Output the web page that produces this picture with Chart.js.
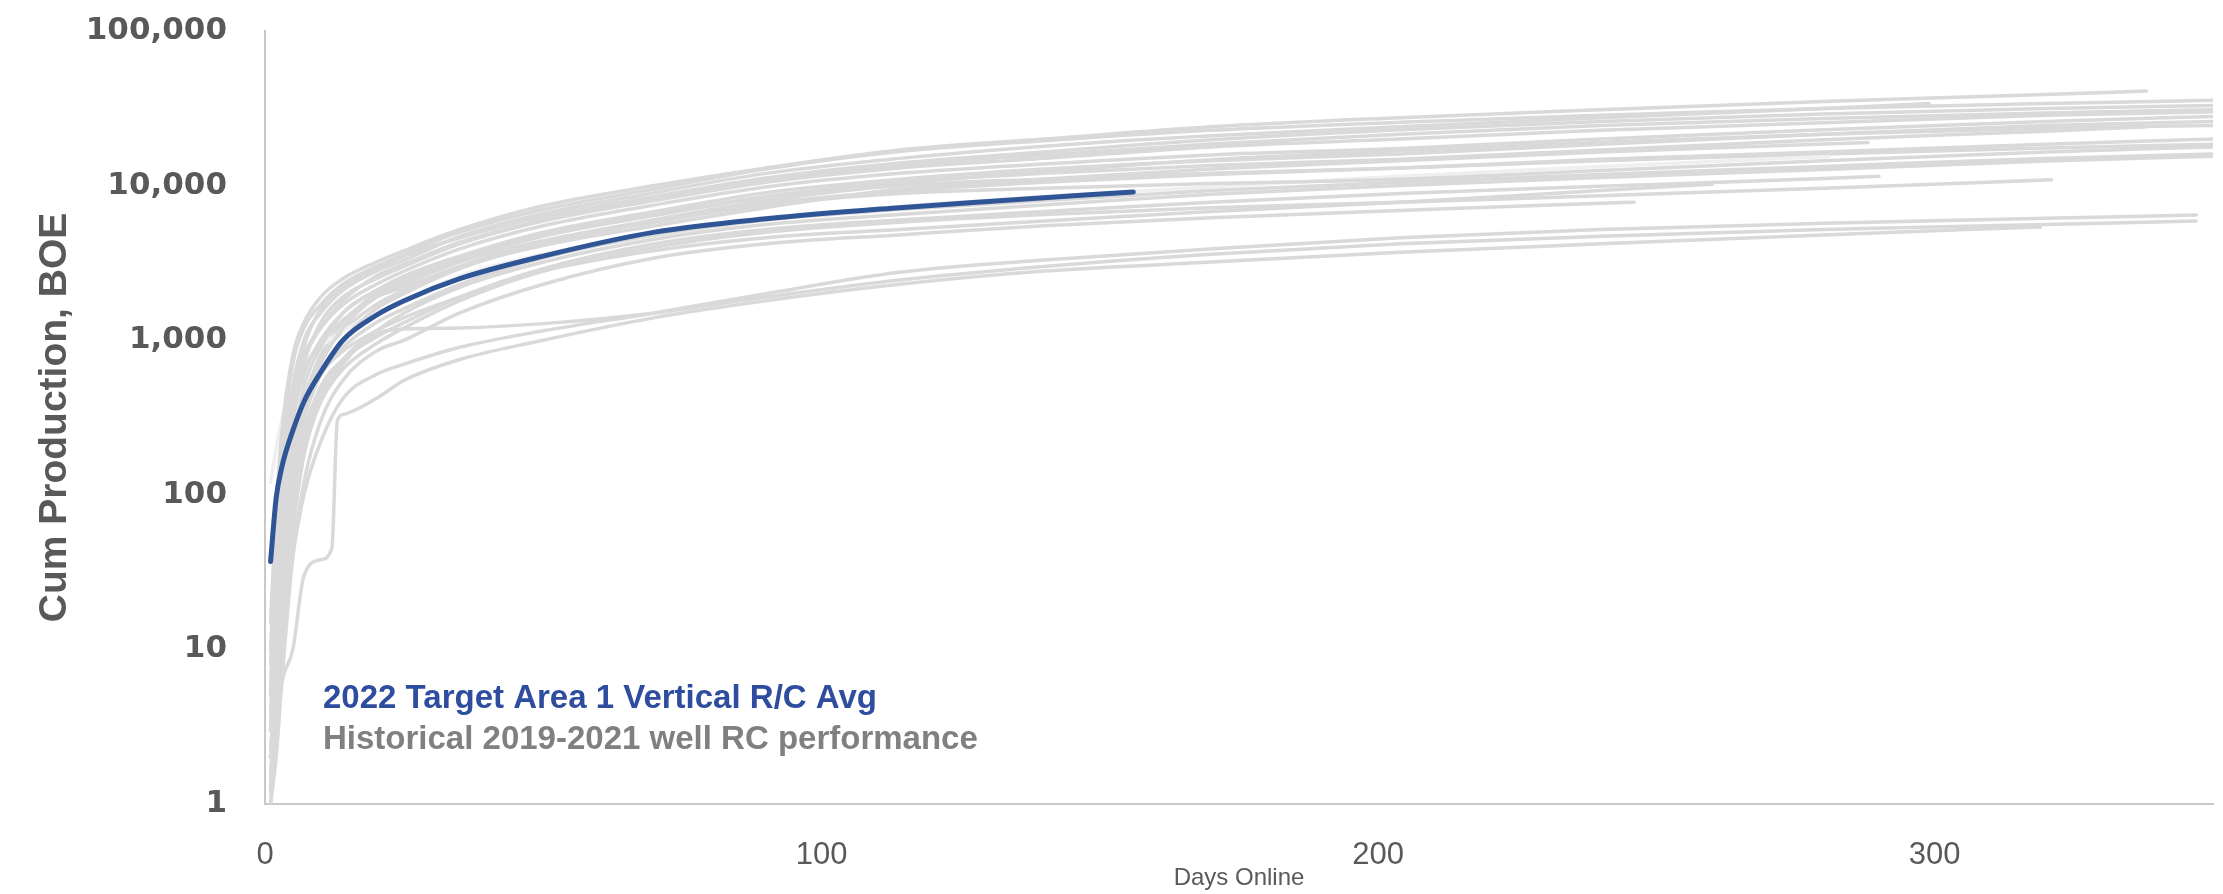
<!DOCTYPE html>
<html>
<head>
<meta charset="utf-8">
<script src="https://cdn.jsdelivr.net/npm/chart.js@4.4.1/dist/chart.umd.min.js"></script>
<style>
  html, body { margin: 0; padding: 0; background: #fff; }
  #wrap { width: 2223px; height: 894px; position: relative; }
</style>
</head>
<body>
<div id="wrap"><canvas id="myChart"></canvas></div>
<script>
// axis ticks
const xTicks = [0, 100, 200, 300];
const yTicks = [1, 10, 100, 1000, 10000, 100000];

// legend lines (text only, no markers)
const legendLabels = ['2022 Target Area 1 Vertical R/C Avg', 'Historical 2019-2021 well RC performance'];

// 2022 target area average curve
const avgDays = [1, 2, 3, 5, 7, 10, 14, 20, 25, 35, 50, 70, 90, 114, 130, 156];
const avgBoe = [37, 95, 150, 260, 400, 620, 1000, 1450, 1800, 2500, 3500, 5000, 6100, 7200, 7900, 9100];

// historical wells, read on a shared day grid (null = no reading there)
const wellDays = [1, 2, 3, 5, 7, 10, 12, 13, 14, 20, 25, 35, 50, 70, 90, 114, 140, 170, 204, 240, 280, 320];
const wellA = [15, 80, 250, 800, 1300, 1900, null, null, 2500, 3200, 3800, 5200, 7400, 10000, 13000, 17000, 20000, 24000, 27500, 31000, 35000, 38800];
const wellB = [8, 40, 180, 700, 1200, 1700, null, null, 2300, 3000, 3600, 5000, 7000, 9500, 12800, 16600, 19500, 22800, 25700, 28500, 31500, 34000];
const wellC = [3, 20, 100, 400, 900, 1600, null, null, 2200, 2900, 3500, 4600, 6300, 8500, 11200, 14000, 16500, 19800, 23000, 26000, 29000, 31500];
const wellD = [5, 25, 120, 500, 1000, 1500, null, null, 2100, 2800, 3300, 4700, 6600, 9000, 12000, 15000, 18000, 21000, 24000, 27500, 31500, null];
const wellE = [2, 10, 60, 300, 700, 1300, null, null, 1900, 2500, 3000, 4200, 5900, 8000, 10500, 13000, 15000, 17800, 20000, 22800, 25500, 28500];
const wellF = [6, 30, 150, 450, 800, 1200, null, null, 1700, 2300, 2800, 3900, 5500, 7500, 9800, 12000, 13800, 15800, 17400, 20000, 23000, 26000];
const wellG = [1.5, 6, 30, 200, 500, 900, null, null, 1500, 2100, 2600, 3500, 5000, 6800, 9000, 11000, 12800, 14500, 16000, 18500, 21500, 24500];
const wellH = [4, 15, 70, 300, 600, 1000, null, null, 1500, 2100, 2500, 3400, 4800, 6500, 8500, 10500, 12000, 13500, 14800, 17000, 19800, 22500];
const wellI = [10, 50, 150, 400, 650, 950, null, null, 1350, 1900, 2200, 3000, 4100, 5500, 7200, 9500, 11000, 12800, 14500, 16500, 18600, null];
const wellJ = [2, 8, 40, 150, 350, 700, null, null, 1200, 1900, 2300, 3200, 4400, 6000, 8000, 10000, 11000, 12000, 13000, 14800, 16500, 18500];
const wellK = [1.2, 4, 20, 120, 300, 600, null, null, 1000, 1600, 2000, 2900, 4200, 5800, 7500, 8900, 9600, 10300, 11000, 12500, 14500, 16500];
const wellL = [3, 12, 50, 180, 350, 600, null, null, 900, 1300, 1600, 2300, 3400, 4800, 6000, 7000, 8000, 9300, 10500, 11800, 13300, 15000];
const wellM = [1, 3, 10, 60, 200, 450, null, null, 750, 1150, 1500, 2200, 3200, 4500, 5600, 6500, 7500, 8800, 10000, 11300, 12700, 14400];
const wellN = [120, 200, 300, 480, 650, 900, null, null, 1150, 1500, 1800, 2600, 3600, 4700, 6000, 7300, 8500, 9800, 11500, 13300, null, null];
const wellO = [2, 6, 25, 100, 250, 500, null, null, 750, 1050, 1300, 1900, 2900, 4200, 5200, 6000, 6800, 7800, 8900, 9900, 11100, null];
const wellP = [1.5, 5, 18, 80, 200, 400, null, null, 650, 950, 1200, 1800, 2800, 4000, 5000, 5800, 6500, 7200, 7800, 8600, 9600, null];
const wellQ = [5, 20, 60, 180, 350, 600, null, null, 850, 1150, 1400, 1900, 2800, 3800, 4600, 5200, 5900, 6800, 7800, 9300, null, null];
const wellR = [1, 2, 6, 40, 120, 300, null, null, 550, 850, 1000, 1500, 2300, 3400, 4200, 4800, 5500, 6200, 6900, 7700, null, null];
const wellS = [1.5, 4, 10, 40, 100, 220, null, null, 420, 600, 700, 900, 1150, 1500, 2000, 2750, 3300, 3900, 4600, 5200, 5700, 6150];
const wellT = [1.2, 5, 15, 60, 180, 400, null, null, 700, 1100, 1180, 1200, 1280, 1500, 1900, 2450, 3000, 3600, 4200, 4700, 5200, 5600];
const wellU = [1.3, 3, 6, 10, 30, 38, 45, 300, 330, 420, 550, 750, 1000, 1400, 1800, 2300, 2800, 3200, 3700, 4200, 4800, null];
const wellV = [3, 15, 90, 380, 750, 1200, null, null, 1800, 2600, 3100, 4300, 6000, 8200, 10800, 13500, 15800, 18600, 21500, 24500, 27200, 29500];
const wellW = [2, 9, 45, 200, 420, 750, null, null, 1150, 1700, 2100, 3000, 4300, 6000, 7700, 9200, 10500, 11800, 13000, 14500, 16000, 17500];
const wellX = [1.3, 5, 25, 150, 400, 800, null, null, 1300, 2000, 2400, 3300, 4700, 6400, 8400, 10400, 12300, 14700, 16800, 19000, 21500, 23500];

const wells = [wellA, wellB, wellC, wellD, wellE, wellF, wellG, wellH, wellI, wellJ, wellK, wellL,
               wellM, wellN, wellO, wellP, wellQ, wellR, wellS, wellT, wellU, wellV, wellW, wellX];
// last reading of each well (day, BOE)
const wellEndDay = [338, 350, 350, 299, 350, 350, 350, 338, 288, 350, 350, 350, 350, 281, 290, 321, 260, 246, 347, 347, 319, 350, 350, 350];
const wellEndBoe = [40900, 35600, 33000, 34000, 30000, 28000, 26000, 24000, 19000, 20000, 17800, 16000, 15500, 15400, 11500, 10900, 10200, 7800, 6450, 5900, 5400, 31000, 18500, 24500];

const grey = '#d9d9d9';
const lightGrey = '#efefef';
const blue = '#2f5597';

function wellPoints(vals, i) {
    const pts = [];
    wellDays.forEach((d, k) => {
        if (vals[k] != null && d < wellEndDay[i]) pts.push({x: d, y: vals[k]});
    });
    pts.push({x: wellEndDay[i], y: wellEndBoe[i]});
    return pts;
}

const datasets = [{
    label: legendLabels[0],
    data: avgDays.map((d, i) => ({x: d, y: avgBoe[i]})),
    borderColor: blue,
    borderWidth: 5,
    order: 0
}];
wells.forEach((w, i) => {
    datasets.push({
        label: legendLabels[1],
        data: wellPoints(w, i),
        borderColor: w === wellN ? lightGrey : grey,
        borderWidth: 3.5,
        order: 1
    });
});

// text-only legend drawn inside the plot, lower left
const legendText = {
    id: 'legendText',
    afterDatasetsDraw(chart) {
        const {ctx, chartArea} = chart;
        ctx.save();
        ctx.font = "bold 33px 'Liberation Sans', Arial, sans-serif";
        ctx.textBaseline = 'middle';
        ctx.textAlign = 'left';
        ctx.fillStyle = '#2e4d9e';
        ctx.fillText(legendLabels[0], chartArea.left + 58, chartArea.bottom - 105);
        ctx.fillStyle = '#808080';
        ctx.fillText(legendLabels[1], chartArea.left + 58, chartArea.bottom - 64);
        ctx.restore();
    }
};

const ctx = document.getElementById('myChart').getContext('2d');
const config = {
    type: 'line',
    data: {datasets},
    options: {
        responsive: true,
        maintainAspectRatio: false,
        animation: false,
        devicePixelRatio: 1,
        layout: {padding: {top: 31, right: 10, bottom: 0, left: 0}},
        elements: {
            point: {radius: 0, hoverRadius: 0},
            line: {cubicInterpolationMode: 'monotone', borderCapStyle: 'round', borderJoinStyle: 'round', fill: false}
        },
        plugins: {
            legend: {display: false},
            tooltip: {enabled: false}
        },
        scales: {
            x: {
                type: 'linear',
                min: 0,
                max: 350,
                afterBuildTicks: s => { s.ticks = xTicks.map(v => ({value: v})); },
                afterFit: s => { s.height = 90; s.paddingLeft = 0; s.paddingRight = 0; },
                grid: {display: false, drawTicks: false},
                border: {display: true, color: '#c8c8c8', width: 2},
                ticks: {
                    color: '#595959',
                    padding: 33,
                    font: {family: "'Liberation Sans', Arial, sans-serif", size: 31}
                },
                title: {
                    display: true,
                    text: 'Days Online',
                    color: '#595959',
                    padding: {top: 0, bottom: 1},
                    font: {family: "'Liberation Sans', Arial, sans-serif", size: 24}
                }
            },
            y: {
                type: 'logarithmic',
                min: 1,
                max: 100000,
                afterBuildTicks: s => { s.ticks = yTicks.map(v => ({value: v})); },
                afterFit: s => { s.width = 265; s.paddingTop = 0; s.paddingBottom = 0; },
                grid: {display: false, drawTicks: false},
                border: {display: true, color: '#c8c8c8', width: 2},
                ticks: {
                    color: '#595959',
                    padding: 38,
                    font: {family: "'DejaVu Sans', Verdana, sans-serif", size: 31, weight: 'bold'},
                    callback: v => v.toLocaleString('en-US')
                },
                title: {
                    display: true,
                    text: 'Cum Production, BOE',
                    color: '#595959',
                    padding: {top: 32, bottom: 0},
                    font: {family: "'Liberation Sans', Arial, sans-serif", size: 39, weight: 'bold'}
                }
            }
        }
    },
    plugins: [legendText]
};

let myChart = new Chart(ctx, config);
</script>
</body>
</html>
